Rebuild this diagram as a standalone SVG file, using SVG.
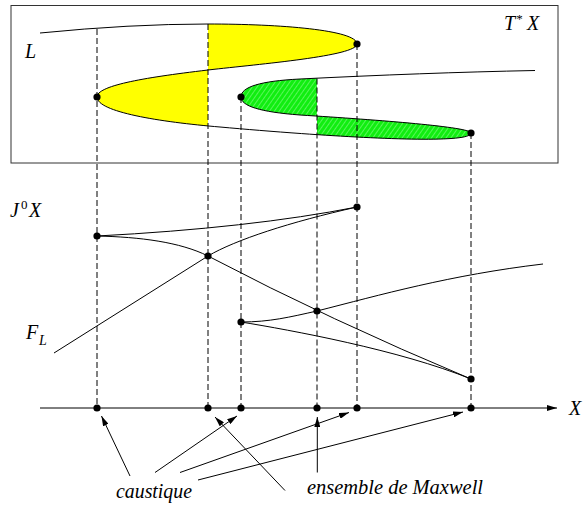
<svg xmlns="http://www.w3.org/2000/svg" width="583" height="507" viewBox="0 0 583 507">
<style>
.c{fill:none;stroke:#000;stroke-width:1}
.d{fill:none;stroke:#000;stroke-width:1;stroke-dasharray:6,3}
.a{fill:none;stroke:#000;stroke-width:1;marker-end:url(#ah)}
.t{font-family:"Liberation Serif","Times New Roman",serif;font-style:italic;font-size:20px;fill:#000}
.s{font-style:normal;font-size:13px}
.si{font-style:italic;font-size:14px}
</style>
<defs>
<marker id="ah" viewBox="0 0 10 6" refX="10" refY="3" markerWidth="10" markerHeight="6" markerUnits="userSpaceOnUse" orient="auto"><path d="M0,0 L10,3 L0,6 Z" fill="#000"/></marker>
<pattern id="hatch" width="4" height="4" patternUnits="userSpaceOnUse" patternTransform="rotate(35)">
<rect width="4" height="4" fill="#11ee11"/>
<line x1="0" y1="0" x2="0" y2="4" stroke="#9fff9f" stroke-width="1"/>
</pattern>
<clipPath id="cR208"><rect x="208" y="0" width="200" height="170"/></clipPath>
<clipPath id="cL208"><rect x="0" y="0" width="208" height="170"/></clipPath>
<clipPath id="cL317"><rect x="0" y="0" width="317" height="170"/></clipPath>
<clipPath id="cR317"><rect x="317" y="0" width="260" height="170"/></clipPath>
</defs>

<g id="cotangent-box">
<rect x="11" y="5.5" width="547" height="157.5" fill="#fff" stroke="#333" stroke-width="1"/>
<path d="M208,24 C280,24 357,30 357,44 C357,56 260,64 208,70 Z" fill="#ffff00" clip-path="url(#cR208)"/>
<path d="M208,70 C140,78 97,86 97,97 C97,112 160,122 220,127 L220,60 Z" fill="#ffff00" clip-path="url(#cL208)"/>
<path d="M471,133 C471,127 380,120 300,115 C260,112 241,106 241,97 C241,87 260,81 300,79 C380,75 460,72 535,70.5 Z" fill="url(#hatch)" clip-path="url(#cL317)"/>
<path d="M220,127 C320,136 471,146 471,133 C471,127 380,120 300,115 Z" fill="url(#hatch)" clip-path="url(#cR317)"/>
<path id="curve-L" class="c" d="M40,33 Q130,24 208,24 C280,24 357,30 357,44 C357,56 260,64 208,70 C140,78 97,86 97,97 C97,112 160,122 220,127 C320,136 471,146 471,133 C471,127 380,120 300,115 C260,112 241,106 241,97 C241,87 260,81 300,79 C380,75 460,72 535,70.5"/>
<text class="t" x="25" y="58">L</text>
<text class="t" x="504" y="30">T<tspan class="s" dy="-7" dx="1">*</tspan><tspan dy="7" x="527">X</tspan></text>
</g>

<g id="front">
<path class="c" d="M97,236 Q250,228 357,207"/>
<path class="c" d="M97,236 C140,237 180,242 208,256 Q330,320 471,379"/>
<path class="c" d="M54,353 L208,256 C235,240 290,222 357,207"/>
<path class="c" d="M241,322 C270,322 290,317 317,311 C380,295 450,275 543,264"/>
<path class="c" d="M241,322 C290,330 400,350 471,379"/>
<text class="t" x="10" y="217">J<tspan class="s" dy="-8" x="21">0</tspan><tspan dy="8" x="29">X</tspan></text>
<text class="t" x="26" y="339">F<tspan class="si" dy="6" x="39">L</tspan></text>
</g>

<g id="connectors">
<line class="d" x1="97" y1="29" x2="97" y2="408"/>
<line class="d" x1="208" y1="24" x2="208" y2="408"/>
<line class="d" x1="241" y1="97" x2="241" y2="408"/>
<line class="d" x1="317" y1="78.5" x2="317" y2="408"/>
<line class="d" x1="357" y1="44" x2="357" y2="408"/>
<line class="d" x1="471" y1="133" x2="471" y2="408"/>
<line class="a" x1="40" y1="408" x2="557" y2="408"/>
<line class="a" x1="130" y1="476" x2="101.5" y2="416"/>
<line class="a" x1="155" y1="472.5" x2="237" y2="416"/>
<line class="a" x1="180" y1="472.5" x2="349" y2="412.5"/>
<line class="a" x1="198" y1="480" x2="463" y2="412"/>
<line class="a" x1="285" y1="490.5" x2="215" y2="417"/>
<line class="a" x1="317.3" y1="472.5" x2="317.3" y2="417"/>
</g>

<g id="points">
<circle cx="97" cy="97" r="3.6"/>
<circle cx="357" cy="44" r="3.6"/>
<circle cx="241" cy="97" r="3.6"/>
<circle cx="471" cy="133" r="3.6"/>
<circle cx="97" cy="236" r="3.6"/>
<circle cx="357" cy="207" r="3.6"/>
<circle cx="208" cy="256" r="3.6"/>
<circle cx="241" cy="322" r="3.6"/>
<circle cx="317" cy="311" r="3.6"/>
<circle cx="471" cy="379" r="3.6"/>
<circle cx="97" cy="408" r="3.6"/>
<circle cx="208" cy="408" r="3.6"/>
<circle cx="241" cy="408" r="3.6"/>
<circle cx="317" cy="408" r="3.6"/>
<circle cx="357" cy="408" r="3.6"/>
<circle cx="471" cy="408" r="3.6"/>
</g>

<g id="labels">
<text class="t" x="569" y="415">X</text>
<text class="t" x="116" y="498" textLength="76" lengthAdjust="spacingAndGlyphs">caustique</text>
<text class="t" x="307" y="494" textLength="176" lengthAdjust="spacingAndGlyphs">ensemble de Maxwell</text>
</g>
</svg>
